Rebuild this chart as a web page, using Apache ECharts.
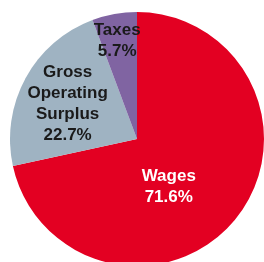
<!DOCTYPE html>
<html>
<head>
<meta charset="utf-8">
<script src="https://cdn.jsdelivr.net/npm/echarts@6/dist/echarts.min.js"></script>
<style>
  html, body { margin: 0; padding: 0; background: #fff; }
  #main { width: 264px; height: 262px; }
</style>
</head>
<body>
<div id="main"></div>
<script>
var names = ['Wages', 'Gross\nOperating\nSurplus', 'Taxes'];
var shares = [71.6, 22.7, 5.7];
var colors = ['#e30022', '#9fb3c2', '#8064a2'];
var textColors = ['#ffffff', '#1a1a1a', '#1a1a1a'];
// nudges from the default inside spot
var nudges = [[-20, 6], [-11, -3], [-8, -33]];

var chart = echarts.init(document.getElementById('main'));

var data = [];
for (var i = 0; i < names.length; i++) {
  data.push({
    name: names[i],
    value: shares[i],
    itemStyle: { color: colors[i] },
    label: { color: textColors[i] }
  });
}

chart.setOption({
  animation: false,
  series: [{
    type: 'pie',
    center: [137, 139],
    radius: 127,
    startAngle: 90,
    clockwise: true,
    silent: true,
    data: data,
    label: {
      position: 'inside',
      fontFamily: 'Liberation Sans, Arial, sans-serif',
      fontWeight: 'bold',
      fontSize: 17,
      lineHeight: 21,
      align: 'center',
      formatter: function (p) { return p.name + '\n' + p.value.toFixed(1) + '%'; }
    },
    labelLine: { show: false },
    labelLayout: function (p) {
      return { dx: nudges[p.dataIndex][0], dy: nudges[p.dataIndex][1] };
    }
  }]
});
</script>
</body>
</html>
